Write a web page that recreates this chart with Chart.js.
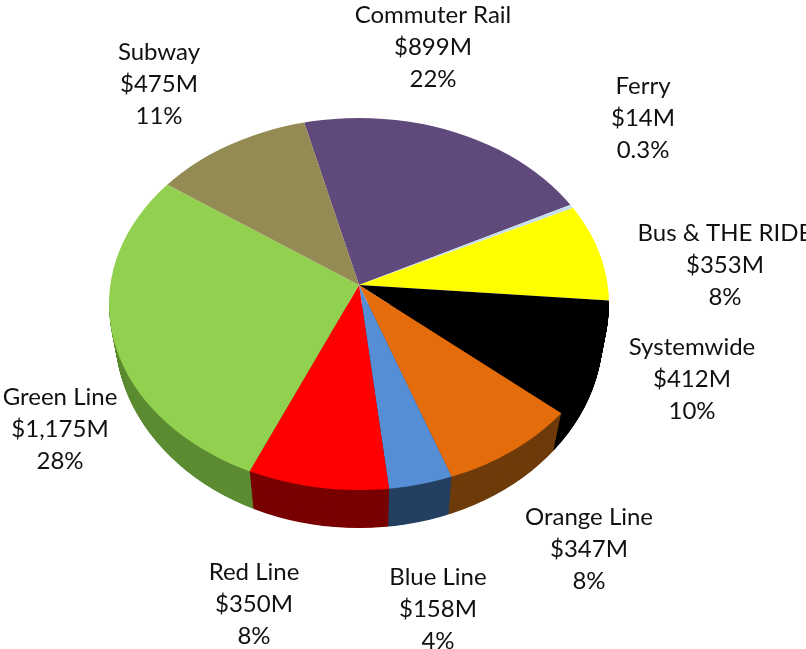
<!DOCTYPE html>
<html>
<head>
<meta charset="utf-8">
<style>
  html, body { margin: 0; padding: 0; background: #fff; }
  canvas { display: block; }
</style>
<script src="https://cdn.jsdelivr.net/npm/chart.js@4/dist/chart.umd.min.js"></script>
</head>
<body>
<canvas id="pie" width="806" height="649"></canvas>
<script>
// Capital spending by mode, in millions of dollars, clockwise from Commuter Rail.
const categories = ['Commuter Rail', 'Ferry', 'Bus & THE RIDE', 'Systemwide', 'Orange Line', 'Blue Line', 'Red Line', 'Green Line', 'Subway'];
const amounts = [899, 14, 353, 412, 347, 158, 350, 1175, 475];
const amountLabels = ['$899M', '$14M', '$353M', '$412M', '$347M', '$158M', '$350M', '$1,175M', '$475M'];
const shareLabels = ['22%', '0.3%', '8%', '10%', '8%', '4%', '8%', '28%', '11%'];
const faceColors = ['#604a7b', '#c6dfea', '#ffff00', '#000000', '#e46c0a', '#558ed5', '#ff0000', '#92d050', '#948a54'];
const wallColors = ['#3f3052', '#8aa0a8', '#9a9a00', '#000000', '#6f3c0c', '#254061', '#7a0000', '#5d8c33', '#5f5835'];

// Centre of each three-line caption: x, middle of the first line y.
const captionAnchors = [[433, 15], [643, 86], [725, 233], [692, 347], [589, 517], [438, 577], [254, 572], [60, 397], [159, 52]];
const captionLineHeight = 32.3;

// Perspective view of the disc. The wedges meet at the chart centre, which sits
// above the middle of the visible rim, so the oversized pie is squashed and then
// trimmed to the rim ellipse. The wall is a stack of such ellipses going down.
const rim = { cy: 304, rx: 250, ry: 186 };
const floorRim = { cy: 333, rx: 244, ry: 195 };
const squash = 0.75;
const wall = { apexDrop: 40, narrowing: 0.98, layers: 70 };

function drawDisc(ctx, chart, arcs, ellipse, apexDrop, widthScale, lowerHalfOnly, colors) {
  const cx = arcs[0].x, cy = arcs[0].y;
  ctx.save();
  if (lowerHalfOnly) {
    ctx.beginPath();
    ctx.rect(0, ellipse.cy, chart.width, chart.height - ellipse.cy);
    ctx.clip();
  }
  ctx.beginPath();
  ctx.ellipse(cx, ellipse.cy, ellipse.rx, ellipse.ry, 0, 0, Math.PI * 2);
  ctx.clip();
  ctx.translate(cx, cy + apexDrop);
  ctx.scale(widthScale, squash);
  ctx.translate(-cx, -cy);
  arcs.forEach((arc, k) => {
    const face = arc.options.backgroundColor;
    if (colors) arc.options.backgroundColor = colors[k];
    arc.draw(ctx);
    arc.options.backgroundColor = face;
  });
  ctx.restore();
}

const tiltedPie = {
  id: 'tiltedPie',
  beforeDatasetDraw(chart, args) {
    const ctx = chart.ctx;
    const arcs = args.meta.data;
    for (let i = wall.layers; i >= 1; i--) {
      const t = i / wall.layers;
      const layer = {
        cy: rim.cy + (floorRim.cy - rim.cy) * t,
        rx: rim.rx + (floorRim.rx - rim.rx) * t,
        ry: rim.ry + (floorRim.ry - rim.ry) * t
      };
      drawDisc(ctx, chart, arcs, layer, wall.apexDrop * t, 1 + (wall.narrowing - 1) * t, true, wallColors);
    }
    drawDisc(ctx, chart, arcs, rim, 0, 1, false, null);
    return false;
  }
};

const captions = {
  id: 'captions',
  afterDraw(chart) {
    const ctx = chart.ctx;
    ctx.save();
    ctx.font = '24px Lato, Carlito, sans-serif';
    ctx.fillStyle = '#111111';
    ctx.textAlign = 'center';
    ctx.textBaseline = 'middle';
    categories.forEach((name, i) => {
      const [x, y] = captionAnchors[i];
      [name, amountLabels[i], shareLabels[i]].forEach((line, n) => {
        ctx.fillText(line, x, y + n * captionLineHeight);
      });
    });
    ctx.restore();
  }
};

new Chart(document.getElementById('pie'), {
  type: 'pie',
  data: {
    labels: categories,
    datasets: [{ data: amounts, backgroundColor: faceColors, borderWidth: 0, hoverOffset: 0 }]
  },
  options: {
    responsive: false,
    animation: false,
    rotation: -14.2,
    layout: { padding: { left: 79, right: 167, top: 5, bottom: 84 } },
    plugins: { legend: { display: false }, tooltip: { enabled: false } }
  },
  plugins: [tiltedPie, captions]
});
</script>
</body>
</html>
